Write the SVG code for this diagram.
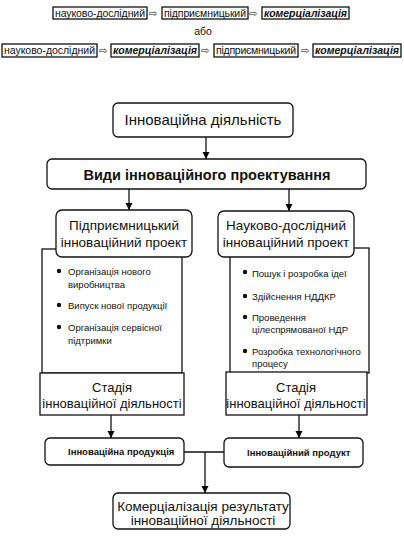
<svg xmlns="http://www.w3.org/2000/svg" width="404" height="538" viewBox="0 0 404 538">
<defs>
<marker id="ah" viewBox="0 0 10 10" refX="10" refY="5" markerWidth="7" markerHeight="8" markerUnits="userSpaceOnUse" orient="auto">
<path d="M0,0 L10,5 L0,10 z" fill="#000"/>
</marker>
</defs>
<style>
text{font-family:"Liberation Sans",Arial,sans-serif;fill:#111}
.b{fill:#fff;stroke:#111;stroke-width:1.3}
.t{font-size:10.5px}
.bi{font-size:10.5px;font-weight:bold;font-style:italic}
.ar{font-family:"DejaVu Sans",sans-serif;font-size:10px}
.m{font-size:14px;text-anchor:middle}
.s{font-size:9.5px}
.p{font-size:9.5px;font-weight:bold}
.c{stroke:#111;stroke-width:1.3;fill:none}
</style>
<rect width="404" height="538" fill="#fff"/>
<g id="top">
<rect class="b" x="53" y="7" width="94" height="12"/><text class="t" x="55" y="17" textLength="90">науково-дослідний</text>
<text class="ar" x="149" y="17">⇨</text>
<rect class="b" x="162" y="7" width="86" height="12"/><text class="t" x="164" y="17" textLength="82">підприємницький</text>
<text class="ar" x="249" y="17">⇨</text>
<rect class="b" x="262" y="7" width="87" height="12"/><text class="bi" x="264" y="17" textLength="83">комерціалізація</text>
<text x="203" y="35" style="font-size:10.5px;text-anchor:middle">або</text>
<rect class="b" x="2" y="44" width="95" height="13"/><text class="t" x="4" y="54" textLength="91">науково-дослідний</text>
<text class="ar" x="99" y="54">⇨</text>
<rect class="b" x="111" y="44" width="88" height="13"/><text class="bi" x="113" y="54" textLength="84">комерціалізація</text>
<text class="ar" x="201" y="54">⇨</text>
<rect class="b" x="214" y="44" width="84" height="13"/><text class="t" x="216" y="54" textLength="80">підприємницький</text>
<text class="ar" x="301" y="54">⇨</text>
<rect class="b" x="313" y="44" width="88" height="13"/><text class="bi" x="315" y="54" textLength="84">комерціалізація</text>
</g>
<g id="connectors">
<line class="c" x1="206" y1="137" x2="206" y2="159" marker-end="url(#ah)"/>
<line class="c" x1="129" y1="189" x2="129" y2="210" marker-end="url(#ah)"/>
<line class="c" x1="289" y1="189" x2="289" y2="211" marker-end="url(#ah)"/>
<line class="c" x1="111" y1="415" x2="111" y2="438" marker-end="url(#ah)"/>
<line class="c" x1="299" y1="415" x2="299" y2="438" marker-end="url(#ah)"/>
<line class="c" x1="184" y1="452" x2="224" y2="452"/>
<line class="c" x1="205" y1="452" x2="205" y2="493" marker-end="url(#ah)"/>
</g>
<g id="n1">
<rect class="b" x="113" y="103" width="180" height="34" rx="5"/>
<text class="m" x="203" y="125" style="font-size:15px">Інноваційна діяльність</text>
</g>
<g id="n2">
<rect class="b" x="47" y="159" width="319" height="30" rx="5"/>
<text class="m" x="207" y="180" style="font-size:14.5px;font-weight:bold">Види інноваційного проектування</text>
</g>
<g id="left">
<rect class="b" x="42" y="249" width="140" height="124"/>
<rect class="b" x="56" y="210" width="136" height="47" rx="6"/>
<text class="m" x="124" y="230" style="font-size:13.5px">Підприємницький</text>
<text class="m" x="124" y="247" style="font-size:13.5px">інноваційний проект</text>
<circle cx="59" cy="271" r="2.2" fill="#111"/>
<text class="s" x="68" y="275">Організація нового</text>
<text class="s" x="68" y="288">виробництва</text>
<circle cx="59" cy="305" r="2.2" fill="#111"/>
<text class="s" x="68" y="309">Випуск нової продукції</text>
<circle cx="59" cy="327" r="2.2" fill="#111"/>
<text class="s" x="68" y="331">Організація сервісної</text>
<text class="s" x="68" y="344">підтримки</text>
</g>
<g id="right">
<rect class="b" x="230" y="248" width="139" height="125"/>
<rect class="b" x="218" y="211" width="136" height="46" rx="6"/>
<text class="m" x="286" y="230" style="font-size:13.5px">Науково-дослідний</text>
<text class="m" x="286" y="247" style="font-size:13.5px">інноваційний проект</text>
<circle cx="245" cy="272" r="2.2" fill="#111"/>
<text class="s" x="252" y="277">Пошук і розробка ідеї</text>
<circle cx="245" cy="296" r="2.2" fill="#111"/>
<text class="s" x="252" y="300">Здійснення НДДКР</text>
<circle cx="245" cy="317" r="2.2" fill="#111"/>
<text class="s" x="252" y="321">Проведення</text>
<text class="s" x="252" y="333">цілеспрямованої НДР</text>
<circle cx="245" cy="351" r="2.2" fill="#111"/>
<text class="s" x="252" y="355">Розробка технологічного</text>
<text class="s" x="252" y="367">процесу</text>
</g>
<g id="stage-left">
<rect class="b" x="40" y="373" width="144" height="42"/>
<text class="m" x="112" y="392" style="font-size:13px">Стадія</text>
<text class="m" x="112" y="408" style="font-size:13px">інноваційної діяльності</text>
</g>
<g id="stage-right">
<rect class="b" x="226" y="372" width="141" height="43"/>
<text class="m" x="296" y="392" style="font-size:13px">Стадія</text>
<text class="m" x="296" y="408" style="font-size:13px">інноваційної діяльності</text>
</g>
<g id="prod-left">
<rect class="b" x="45" y="438" width="139" height="27" rx="5"/>
<text class="p" x="68" y="455">Інноваційна продукція</text>
</g>
<g id="prod-right">
<rect class="b" x="224" y="438" width="139" height="29" rx="5"/>
<text class="p" x="247" y="456">Інноваційний продукт</text>
</g>
<g id="result">
<rect class="b" x="113" y="493" width="177" height="36" rx="5"/>
<text class="m" x="203" y="511" style="font-size:13.5px">Комерціалізація результату</text>
<text class="m" x="203" y="525" style="font-size:13.5px">інноваційної діяльності</text>
</g>
</svg>
